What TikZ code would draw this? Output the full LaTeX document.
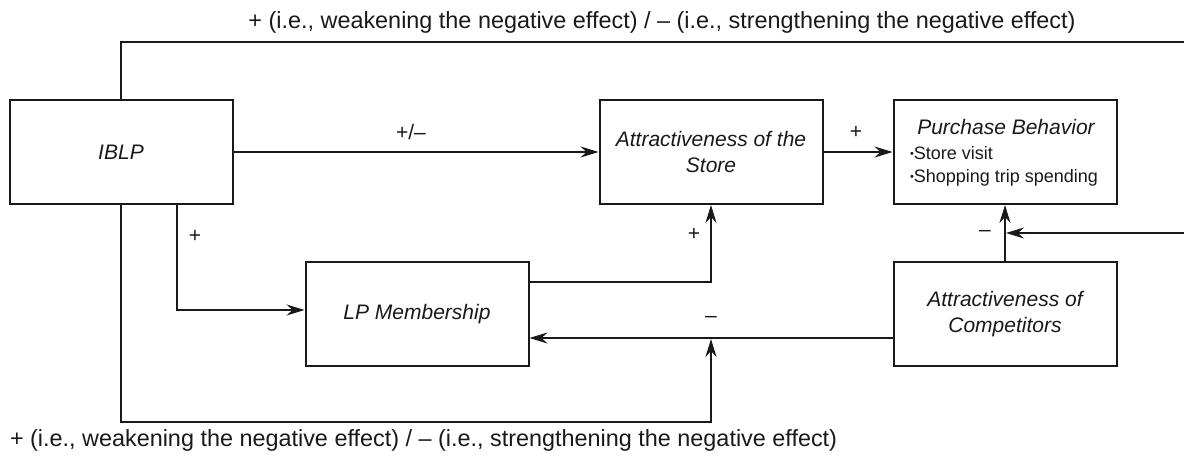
\documentclass[tikz,border=0pt]{standalone}
\usepackage{fontspec}
\setmainfont{Liberation Sans}
\usetikzlibrary{arrows.meta}
\begin{document}
\begin{tikzpicture}[x=1pt,y=-1pt,line width=2pt,color=black!90,
  box/.style={draw,minimum width=223pt,minimum height=104pt,inner sep=0pt,align=center,
    font=\fontsize{21}{26}\selectfont\itshape},
  arr/.style={-{Stealth[length=18pt,width=11pt,inset=6pt]}},
  lab/.style={font=\fontsize{21}{24}\selectfont,inner sep=0pt},
  biglab/.style={font=\fontsize{23.4}{26}\selectfont,inner sep=0pt},
  small/.style={font=\fontsize{18}{22}\selectfont,inner sep=0pt,anchor=west}]
\useasboundingbox (0,0) rectangle (1184,472);
% boxes
\node[box] (iblp) at (121,152) {IBLP};
\node[box] (store) at (711,152) {Attractiveness of the\\Store};
\node[box] (purch) at (1005,152) {};
\node[box] (lp) at (417,314) {LP Membership};
\node[box] (comp) at (1005,314) {Attractiveness of\\Competitors};
% purchase box text
\node[lab,font=\fontsize{21}{24}\selectfont\itshape] (ptitle) at (1006,127) {Purchase Behavior};
\node[small] (pb1) at (909,153) {\raisebox{0.2ex}{\fontsize{11}{11}\selectfont\textbullet}Store visit};
\node[small] (pb2) at (909,178) {\raisebox{0.2ex}{\fontsize{11}{11}\selectfont\textbullet}Shopping trip spending};
% helper coordinates
\coordinate (tl) at (121,42);
\coordinate (tr) at (1194,42);
\coordinate (rr) at (1194,233);
\coordinate (pj) at (1005,233);
\coordinate (b1) at (177,0);
\coordinate (bl) at (121,422);
\coordinate (cross) at (711,338);
% connectors
\draw[arr] (iblp.east) -- (store.west);
\draw[arr] (store.east) -- (purch.west);
\draw (iblp.north -| tl) -- (tl) -- (tr) -- (rr);
\draw[arr,shorten >=1pt] (rr) -- (pj);
\draw[arr] (iblp.south -| b1) |- ([yshift=4pt]lp.west);
\draw[arr,shorten >=1pt] (iblp.south -| tl) |- (bl) -| (cross);
\draw[arr] ([yshift=32pt]lp.east) -| (store.south);
\draw[arr] ([yshift=-24pt]comp.west) -- ([yshift=-24pt]lp.east);
\draw[arr] (comp.north) -- (purch.south);
% labels
\node[lab] (l1) at (411,132) {+/–};
\node[lab] (l2) at (856,132) {+};
\node[lab] (l3) at (195,236) {+};
\node[lab] (l4) at (694,234) {+};
\node[lab] (l5) at (711,319) {–};
\node[lab] (l6) at (985,233) {–};
\node[biglab] (ltop) at (662,22) {+ (i.e., weakening the negative effect) / – (i.e., strengthening the negative effect)};
\node[biglab,anchor=west] (lbot) at (9,440) {+ (i.e., weakening the negative effect) / – (i.e., strengthening the negative effect)};
\end{tikzpicture}
\end{document}
